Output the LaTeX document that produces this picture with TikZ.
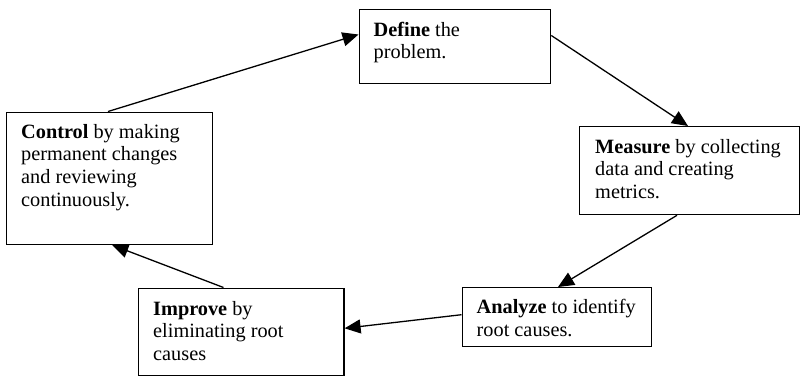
\documentclass[tikz,border=0pt]{standalone}
\usepackage{fontspec}
\setmainfont{Liberation Serif}
\usetikzlibrary{arrows.meta}

\tikzset{
  stepbox/.style={draw=black, line width=1.3pt, inner sep=0pt, anchor=north west},
  steptext/.style={inner sep=0pt, anchor=base west,
    font=\fontsize{20.3pt}{22.8pt}\selectfont},
  flow/.style={draw=black, line width=1.3pt,
    -{Triangle[length=16pt, width=14pt]}}
}
\newcommand{\steplines}[1]{\begin{tabular}[t]{@{}l@{}}#1\end{tabular}}

\begin{document}
\begin{tikzpicture}[x=1pt, y=1pt]
  \fill[white] (0,0) rectangle (800,-376);
  \useasboundingbox (0,0) rectangle (800,-376);

  % the five boxes of the cycle
  \node[stepbox, minimum width=191.5pt, minimum height=74pt]  (define)  at (358.5,-8.5) {};
  \node[stepbox, minimum width=220pt,   minimum height=88pt]  (measure) at (579,-126) {};
  \node[stepbox, minimum width=189.5pt, minimum height=58.5pt](analyze) at (461.5,-287) {};
  \node[stepbox, minimum width=205.8pt, minimum height=87.5pt](improve) at (137.5,-287.5) {};
  \node[stepbox, minimum width=205.7pt, minimum height=132.3pt](control) at (6,-111.5) {};

  % box texts
  \node[steptext] (define-t)  at ([xshift=15pt, yshift=-27.5pt]define.north west)
    {\steplines{\textbf{Define} the\\problem.}};
  \node[steptext] (measure-t) at ([xshift=16pt, yshift=-27pt]measure.north west)
    {\steplines{\textbf{Measure} by collecting\\data and creating\\metrics.}};
  \node[steptext] (analyze-t) at ([xshift=15pt, yshift=-26.5pt]analyze.north west)
    {\steplines{\textbf{Analyze} to identify\\root causes.}};
  \node[steptext] (improve-t) at ([xshift=15.5pt, yshift=-27.5pt]improve.north west)
    {\steplines{\textbf{Improve} by\\eliminating root\\causes}};
  \node[steptext] (control-t) at ([xshift=15pt, yshift=-26.5pt]control.north west)
    {\steplines{\textbf{Control} by making\\permanent changes\\and reviewing\\continuously.}};

  % connectors
  \draw[flow] ([xshift=102pt]control.north west) -- ([yshift=-26pt]define.north west);
  \draw[flow] ([yshift=-27pt]define.north east) -- ([xshift=109pt]measure.north west);
  \draw[flow] ([xshift=98pt]measure.south west) -- ([xshift=96.5pt]analyze.north west);
  \draw[flow] ([yshift=-27.7pt]analyze.north west) -- ([yshift=-40.8pt]improve.north east);
  \draw[flow] ([xshift=86pt]improve.north west) -- ([xshift=106.3pt]control.south west);
\end{tikzpicture}
\end{document}
